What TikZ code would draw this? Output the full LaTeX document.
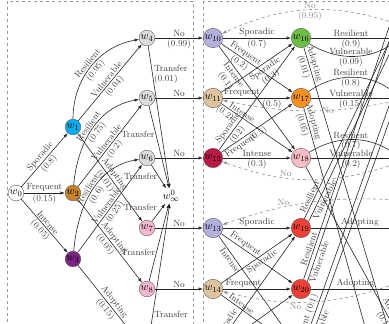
\documentclass[tikz,border=0pt]{standalone}
\usepackage{amsmath,amssymb}
\usepackage{xcolor}
\usepackage{tikz}
\usetikzlibrary{arrows.meta}
\definecolor{stcyan}{HTML}{00AEEF}
\definecolor{stochre}{HTML}{C7822C}
\definecolor{stplum}{HTML}{7D2585}
\definecolor{stgrey}{HTML}{DCDCDC}
\definecolor{stpink}{HTML}{F5B7CF}
\definecolor{stlav}{HTML}{B3B0DE}
\definecolor{sttan}{HTML}{DFC49E}
\definecolor{stcrim}{HTML}{BA1845}
\definecolor{stgreen}{HTML}{6DBE45}
\definecolor{storange}{HTML}{F7901E}
\definecolor{strose}{HTML}{F8BDC4}
\definecolor{stred}{HTML}{EE4036}
\definecolor{stink}{HTML}{262626}
\tikzset{
  state/.style={circle,draw=black!65,inner sep=0.6pt,minimum size=15.5pt,font=\fontsize{11}{12}\selectfont},
  lbl/.style={font=\fontsize{9}{10}\selectfont,text=black!75,inner sep=1.2pt},
  nolbl/.style={lbl,text=black!45},
  link/.style={draw=stink,semithick,-{Latex[length=4.5pt,width=3.2pt]}},
  noline/.style={link,draw=black!45,dashed},
  zone/.style={draw=black!40,dashed},
}

\begin{document}
\begin{tikzpicture}[x=1pt,y=1pt]
\useasboundingbox (0,0) rectangle (389,-324);
\clip (0,0) rectangle (389,-324);
\draw[zone] (7,-1) rectangle (193,-340);
\draw[zone] (203,-1) rectangle (420,-340);

% first stage
\node[state,fill=white] (w0) at (16,-193) {$w_0$};
\node[state,fill=stcyan] (w1) at (73,-127) {$w_1$};
\node[state,fill=stochre] (w2) at (73,-193) {$w_2$};
\node[state,fill=stplum] (w3) at (73,-259) {$w_3$};
\node[state,fill=stgrey] (w4) at (147,-38) {$w_4$};
\node[state,fill=stgrey] (w5) at (147,-98) {$w_5$};
\node[state,fill=stgrey] (w6) at (147,-158) {$w_6$};
\node[state,fill=stpink] (w7) at (147,-228) {$w_7$};
\node[state,fill=stpink] (w8) at (147,-289) {$w_8$};
\node[state,fill=stpink] (w9) at (147,-352) {$w_9$};
\node[inner sep=1.5pt,font=\fontsize{11}{12}\selectfont] (winf) at (171,-196) {$w^{0}_{\infty}$};

\draw[link] (w0) -- node[lbl,above,sloped]{Sporadic} node[lbl,below,sloped]{(0.8)} (w1);
\draw[link] (w0) -- node[lbl,above]{Frequent} node[lbl,below]{(0.15)} (w2);
\draw[link] (w0) -- node[lbl,above,sloped]{Intense} node[lbl,below,sloped]{(0.05)} (w3);

\draw[link] (w1) to[out=90,in=190] node[lbl,above,sloped]{Resilient} node[lbl,below,sloped]{(0.95)} (w4);
\draw[link] (w1) -- node[lbl,above,sloped]{Vulnerable} node[lbl,below,sloped]{(0.04)} (w4);
\draw[link] (w1) -- node[lbl,above,sloped]{Adopting} node[lbl,below,sloped]{(0.01)} (w7);
\draw[link] (w2) to[out=85,in=190] node[lbl,above,sloped]{Resilient} node[lbl,below,sloped]{(0.75)} (w5);
\draw[link] (w2) -- node[lbl,above,sloped]{Vulnerable} node[lbl,below,sloped]{(0.2)} (w5);
\draw[link] (w2) -- node[lbl,above,sloped]{Adopting} node[lbl,below,sloped]{(0.05)} (w8);
\draw[link] (w3) to[out=85,in=190] node[lbl,above,sloped]{Resilient} node[lbl,below,sloped]{(0.6)} (w6);
\draw[link] (w3) -- node[lbl,above,sloped]{Vulnerable} node[lbl,below,sloped]{(0.25)} (w6);
\draw[link] (w3) -- node[lbl,above,sloped]{Adopting} node[lbl,below,sloped]{(0.15)} (w9);

\draw[link] (w4) -- node[lbl,right,pos=0.2,align=left]{Transfer\\(0.01)} (winf);
\draw[link] (w5) -- node[lbl,left,pos=0.35]{Transfer} (winf);
\draw[link] (w6) -- node[lbl,left,pos=0.5]{Transfer} (winf);
\draw[link] (w7) -- node[lbl,above left,pos=0.5]{Transfer} (winf);
\draw[link] (w8) -- node[lbl,left,pos=0.37]{Transfer} (winf);
\draw[link] (w9) -- node[lbl,right,pos=0.21]{Transfer} (winf);

% second stage
\node[state,fill=stlav] (w10) at (213,-38) {$w_{10}$};
\node[state,fill=sttan] (w11) at (213,-98) {$w_{11}$};
\node[state,fill=stcrim] (w12) at (213,-158) {$w_{12}$};
\node[state,fill=stlav] (w13) at (213,-228) {$w_{13}$};
\node[state,fill=sttan] (w14) at (213,-289) {$w_{14}$};
\node[state,fill=stcrim] (w15) at (213,-352) {$w_{15}$};
\node[state,fill=stgreen] (w16) at (301,-38) {$w_{16}$};
\node[state,fill=storange] (w17) at (301,-98) {$w_{17}$};
\node[state,fill=strose] (w18) at (301,-158) {$w_{18}$};
\node[state,fill=stred] (w19) at (301,-228) {$w_{19}$};
\node[state,fill=stred] (w20) at (301,-289) {$w_{20}$};
\node[state,fill=stred] (w21) at (301,-352) {$w_{21}$};

\draw[link] (w4) -- node[lbl,above]{No} node[lbl,below]{(0.99)} (w10);
\draw[link] (w5) -- node[lbl,above]{No} (w11);
\draw[link] (w6) -- node[lbl,above]{No} (w12);
\draw[link] (w7) -- node[lbl,above]{No} (w13);
\draw[link] (w8) -- node[lbl,above]{No} (w14);
\draw[link] (w9) -- (w15);

\draw[link] (w10) -- node[lbl,above]{Sporadic} node[lbl,below]{(0.7)} (w16);
\draw[link] (w10) -- node[lbl,above,sloped,pos=0.3]{Frequent} node[lbl,below,sloped,pos=0.3]{(0.2)} (w17);
\draw[link] (w10) -- node[lbl,below,sloped,pos=0.25,align=center]{Intense\\(0.1)} (w18);
\draw[link] (w11) -- node[lbl,below,sloped,pos=0.57,align=center]{Sporadic\\(0.3)} (w16);
\draw[link] (w11) -- node[lbl,above,pos=0.28]{Frequent} node[lbl,below,pos=0.72]{(0.5)} (w17);
\draw[link] (w11) -- node[lbl,above,sloped,pos=0.26]{Intense} node[lbl,below,sloped,pos=0.1]{(0.2)} (w18);
\draw[link] (w12) -- node[lbl,above,sloped,pos=0.18]{Sporadic} node[lbl,below,sloped,pos=0.18]{(0.2)} (w16);
\draw[link] (w12) -- node[lbl,below,sloped,pos=0.23]{Frequent} node[lbl,below,sloped,pos=0.47]{(0.5)} (w17);
\draw[link] (w12) -- node[lbl,above]{Intense} node[lbl,below]{(0.3)} (w18);

\draw[link] (w13) -- node[lbl,above]{Sporadic} (w19);
\draw[link] (w13) -- node[lbl,above,sloped,pos=0.3]{Frequent} (w20);
\draw[link] (w13) -- node[lbl,below,sloped,pos=0.2]{Intense} (w21);
\draw[link] (w14) -- node[lbl,below,sloped,pos=0.53]{Sporadic} (w19);
\draw[link] (w14) -- node[lbl,above,pos=0.3]{Frequent} (w20);
\draw[link] (w14) -- node[lbl,above,sloped,pos=0.25]{Intense} (w21);
\draw[link] (w15) -- node[lbl,above,sloped,pos=0.15]{Sporadic} (w19);
\draw[link] (w15) -- (w20);

% towards the next stage
\coordinate (r1) at (400,-38);
\coordinate (r2) at (400,-98);
\coordinate (r3) at (400,-158);
\coordinate (r4) at (400,-228);
\coordinate (r5) at (400,-289);
\coordinate (a16) at (421,-438);
\coordinate (a17) at (413,-498);
\coordinate (a18) at (444,-418);
\coordinate (q19r) at (419,20);
\coordinate (q19v) at (425,20);
\coordinate (q20r) at (405,20);
\coordinate (q20v) at (410,20);
\coordinate (q21r) at (434,20);
\coordinate (q21v) at (440,20);
\coordinate (n10) at (400,-25);
\coordinate (n11) at (400,-100);
\coordinate (n12) at (400,-162);
\coordinate (n13) at (400,-200);
\coordinate (n14) at (400,-282);

\draw[link] (w16) -- node[lbl,above,pos=0.45]{Resilient} node[lbl,below,pos=0.45]{(0.9)} (r1);
\draw[link] (w16) to[bend right=35] node[lbl,above,pos=0.45]{Vulnerable} node[lbl,below,pos=0.45]{(0.09)} (r1);
\draw[link] (w16) -- node[lbl,above,sloped,pos=0.045]{Adopting} node[lbl,below,sloped,pos=0.045]{(0.01)} (a16);
\draw[link] (w17) to[bend left=40] node[lbl,above,pos=0.45]{Resilient} node[lbl,below,pos=0.45]{(0.8)} (r2);
\draw[link] (w17) -- node[lbl,above,pos=0.45]{Vulnerable} node[lbl,below,pos=0.45]{(0.15)} (r2);
\draw[link] (w17) -- node[lbl,above,sloped,pos=0.04]{Adopting} node[lbl,below,sloped,pos=0.04]{(0.05)} (a17);
\draw[link] (w18) to[bend left=35] node[lbl,above,pos=0.45]{Resilient} node[lbl,below,pos=0.45]{(0.7)} (r3);
\draw[link] (w18) -- node[lbl,above,pos=0.45]{Vulnerable} node[lbl,below,pos=0.45]{(0.2)} (r3);
\draw[link] (w18) -- node[lbl,above,sloped,pos=0.6]{Adopting} node[lbl,below,sloped,pos=0.6]{(0.1)} (a18);

\draw[link] (w19) -- node[lbl,above,pos=0.55]{Adopting} (r4);
\draw[link] (w19.70) -- node[lbl,above,sloped,pos=0.083]{Resilient} (q19r);
\draw[link] (w19.40) -- node[lbl,below,sloped,pos=0.1]{Vulnerable} (q19v);
\draw[link] (w20) -- node[lbl,above,pos=0.5]{Adopting} (r5);
\draw[link] (w20.75) -- node[lbl,above,sloped,pos=0.097]{Resilient} (q20r);
\draw[link] (w20.50) -- node[lbl,below,sloped,pos=0.07]{Vulnerable} (q20v);
\draw[link] (w21.70) -- node[lbl,above,sloped,pos=0.053]{Resilient (0.1)} (q21r);
\draw[link] (w21.40) -- node[lbl,below,sloped,pos=0.044]{Vulnerable} (q21v);

% back to the start of the stage
\draw[noline] (n10) to[bend right=22] node[nolbl,above]{No} node[nolbl,below]{(0.95)} (w10);
\draw[noline] (n11) to[bend left=12] node[nolbl,pos=0.4]{No} (w11);
\draw[noline] (n12) to[bend left=20] node[nolbl,above,pos=0.65]{No} (w12);
\draw[noline] (n13) to[bend right=11] node[nolbl,above,pos=0.66]{No} (w13);
\draw[noline] (n14) to[bend left=17] node[nolbl,below,pos=0.6]{No} (w14);
\end{tikzpicture}
\end{document}
